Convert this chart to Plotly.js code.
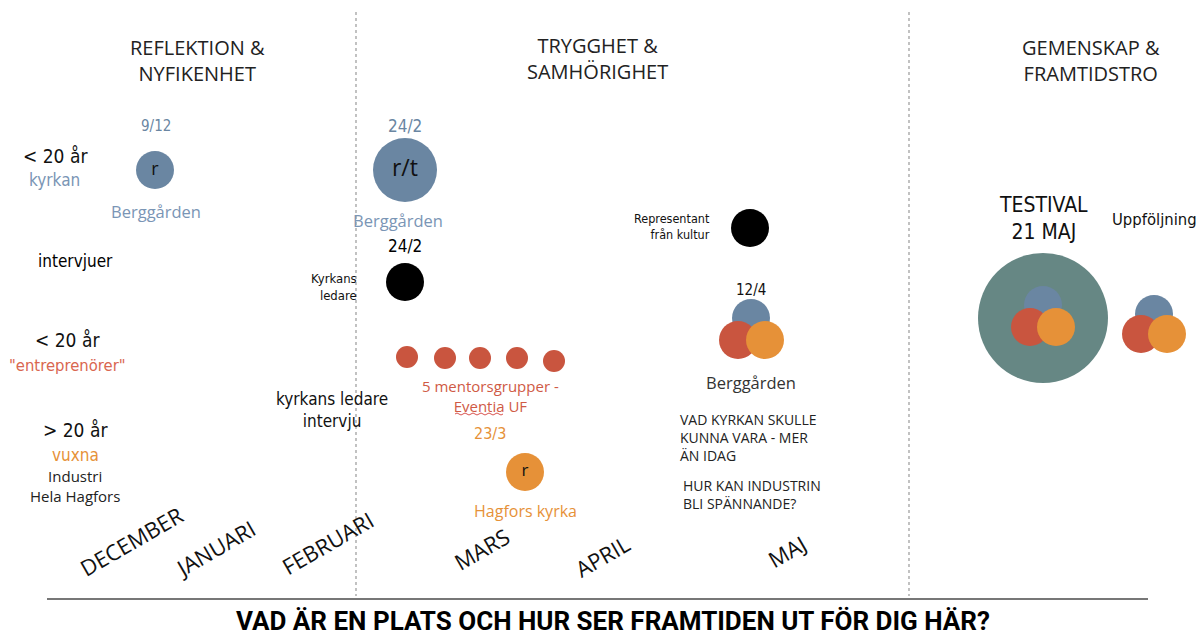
<!DOCTYPE html>
<html><head><meta charset="utf-8">
<script src="https://cdn.plot.ly/plotly-3.0.1.min.js"></script>
<style>html,body{margin:0;padding:0;background:#fff;}#chart{width:1196px;height:637px;}</style>
</head><body><div id="chart"></div>
<script>
// ---- data ----
const BLUE = '#6a86a2', RED = '#c9553f', ORANGE = '#e69138', TEAL = '#668784', BLACK = '#000000';
const sectionTitles = ['REFLEKTION &<br>NYFIKENHET', 'TRYGGHET &<br>SAMHÖRIGHET', 'GEMENSKAP &<br>FRAMTIDSTRO'];
const sectionX = [197, 597, 1091];
const sectionY = [60, 58, 60];
const months = ['DECEMBER', 'JANUARI', 'FEBRUARI', 'MARS', 'APRIL', 'MAJ'];
const monthX = [131, 215, 327, 481, 602, 787];
const monthY = [541, 548, 543, 549, 556, 551];
const dividerX = [356, 909];

// single events (circles)
const eventX = [155, 405, 405, 525, 750, 1043];
const eventY = [170, 170, 282, 472, 228, 318];
const eventSize = [38, 64, 38, 38, 38, 130];
const eventColor = [BLUE, BLUE, BLACK, ORANGE, BLACK, TEAL];
const eventText = ['r', 'r/t', '', 'r', '', ''];
const eventTextSize = [18, 23, 14, 17, 14, 14];

// mentor groups
const mentorX = [407, 445, 480, 517, 554];
const mentorY = [357, 358, 358, 358, 361];

// group triads (blue, red, orange)
const triadBlueX = [751, 1043, 1154], triadBlueY = [318, 305, 314];
const triadRedX = [738, 1030, 1141], triadRedY = [340, 327, 334];
const triadOrangeX = [765, 1056, 1167], triadOrangeY = [340, 327, 334];

// text labels
const HAND = '"Liberation Sans Narrow","DejaVu Sans Condensed","Roboto Condensed",sans-serif';
const SANS = '"Open Sans","Noto Sans",sans-serif';
const labels = [
  // text, x, y, color, size, font, anchor
  ['9/12', 156, 126, BLUE, 15, HAND, 'center'],
  ['Berggården', 156, 211, '#7a95b5', 16.5, SANS, 'center'],
  ['< 20 år', 55, 156, '#111', 19, HAND, 'center'],
  ['kyrkan', 54, 180, '#7a95b5', 17, HAND, 'center'],
  ['intervjuer', 75, 261, '#000', 17, HAND, 'center'],
  ['< 20 år', 67, 340, '#111', 19, HAND, 'center'],
  ['"entreprenörer"', 67, 365, '#d9664f', 16.5, HAND, 'center'],
  ['> 20 år', 75, 430, '#111', 19, HAND, 'center'],
  ['vuxna', 75, 455, ORANGE, 17, HAND, 'center'],
  ['Industri<br>Hela Hagfors', 75, 486, '#222', 15, SANS, 'center'],
  ['24/2', 405, 126, BLUE, 17, HAND, 'center'],
  ['Berggården', 398, 220, '#7a95b5', 16.5, SANS, 'center'],
  ['24/2', 405, 246, '#000', 17, HAND, 'center'],
  ['Kyrkans<br>ledare', 359, 287, '#111', 13, HAND, 'right'],
  ['5 mentorsgrupper -<br>Eventia UF', 490, 396, '#cf5a45', 15, SANS, 'center'],
  ['23/3', 490, 433, ORANGE, 16, HAND, 'center'],
  ['Hagfors kyrka', 525, 511, ORANGE, 16, SANS, 'center'],
  ['kyrkans ledare<br>intervju', 332, 410, '#111', 17, HAND, 'center'],
  ['Representant<br>från kultur', 712, 226, '#111', 12.5, HAND, 'right'],
  ['12/4', 751, 290, '#111', 15, HAND, 'center'],
  ['Berggården', 751, 382, '#333', 16.5, SANS, 'center'],
  ['VAD KYRKAN SKULLE<br>KUNNA VARA - MER<br>ÄN IDAG', 678, 437, '#222', 14, SANS, 'left'],
  ['HUR KAN INDUSTRIN<br>BLI SPÄNNANDE?', 681, 494, '#222', 14, SANS, 'left'],
  ['TESTIVAL<br>21 MAJ', 1043, 218, '#111', 21, HAND, 'center'],
  ['Uppföljning', 1154, 219, '#111', 16.5, HAND, 'center']
];
const bottomTitle = 'VAD ÄR EN PLATS OCH HUR SER FRAMTIDEN UT FÖR DIG HÄR?';

// ---- traces ----
const traces = [];
traces.push({type: 'scatter', mode: 'markers', x: mentorX, y: mentorY,
  marker: {size: 22, color: RED, opacity: 1, line: {width: 0}}, hoverinfo: 'skip'});
traces.push({type: 'scatter', mode: 'markers+text', x: eventX, y: eventY, text: eventText,
  textposition: 'middle center', textfont: {size: eventTextSize, color: '#111', family: SANS},
  marker: {size: eventSize, color: eventColor, opacity: 1, line: {width: 0}}, hoverinfo: 'skip'});
traces.push({type: 'scatter', mode: 'markers', x: triadBlueX, y: triadBlueY,
  marker: {size: 38, color: BLUE, opacity: 1, line: {width: 0}}, hoverinfo: 'skip'});
traces.push({type: 'scatter', mode: 'markers', x: triadRedX, y: triadRedY,
  marker: {size: 38, color: RED, opacity: 1, line: {width: 0}}, hoverinfo: 'skip'});
traces.push({type: 'scatter', mode: 'markers', x: triadOrangeX, y: triadOrangeY,
  marker: {size: 38, color: ORANGE, opacity: 1, line: {width: 0}}, hoverinfo: 'skip'});

const annotations = [];
sectionTitles.forEach((t, i) => annotations.push({x: sectionX[i], y: sectionY[i], text: t,
  showarrow: false, font: {family: SANS, size: 20, color: '#222'}, xanchor: 'center', yanchor: 'middle'}));
months.forEach((m, i) => annotations.push({x: monthX[i], y: monthY[i], text: m, textangle: -30,
  showarrow: false, font: {family: SANS, size: 22, color: '#111'}, xanchor: 'center', yanchor: 'middle'}));
labels.forEach(l => annotations.push({x: l[1], y: l[2], text: l[0], showarrow: false,
  font: {color: l[3], size: l[4], family: l[5]}, xanchor: l[6], align: l[6], yanchor: 'middle'}));
annotations.push({x: 613, y: 637, text: '<b>' + bottomTitle + '</b>', showarrow: false,
  font: {family: 'Roboto,sans-serif', size: 26, color: '#000'}, xanchor: 'center', yanchor: 'bottom',
  borderpad: 0});

const shapes = [];
dividerX.forEach(x => shapes.push({type: 'line', x0: x, x1: x, y0: 12, y1: 596,
  line: {color: '#999', width: 1.2, dash: 'dot'}, layer: 'below'}));
shapes.push({type: 'line', x0: 47, x1: 1148, y0: 599, y1: 599, line: {color: '#777', width: 2}});
// wavy underline (spell-check mark) under "Eventia"
shapes.push({type: 'path', path: 'M455,414 Q457,412 459,414 T463,414 T467,414 T471,414 T475,414 T479,414 T483,414 T487,414 T491,414 T495,414 T499,414 T503,414',
  line: {color: '#d9534f', width: 1}});

const layout = {
  width: 1196, height: 637, margin: {l: 0, r: 0, t: 0, b: 0},
  paper_bgcolor: '#fff', plot_bgcolor: '#fff', showlegend: false,
  xaxis: {range: [0, 1196], visible: false, fixedrange: true},
  yaxis: {range: [637, 0], visible: false, fixedrange: true},
  annotations: annotations, shapes: shapes
};
Plotly.newPlot('chart', traces, layout, {staticPlot: true, displayModeBar: false});
</script></body></html>
